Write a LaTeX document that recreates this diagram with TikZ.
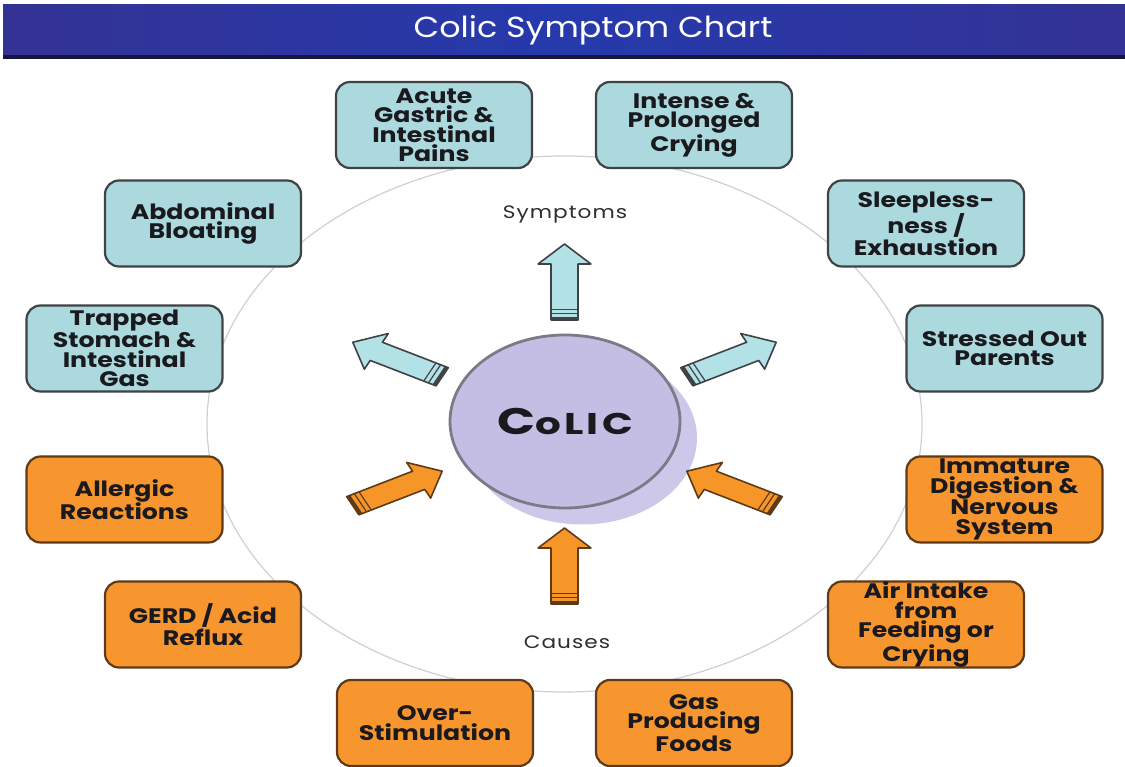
\documentclass[tikz,border=0pt]{standalone}
\usepackage{fontspec}
\usetikzlibrary{shapes.geometric}
\setmainfont{Poppins}
\newfontfamily\boxfont[FakeStretch=1.2]{Poppins}
\newfontfamily\titlefont[FakeStretch=1.15]{Poppins}
\newfontfamily\lblfont[FakeStretch=1.2,LetterSpace=6]{Poppins}
\newfontfamily\colicfont[FakeStretch=1.35,LetterSpace=11]{Poppins}
\definecolor{boxblue}{RGB}{171,217,221}
\definecolor{boxorange}{RGB}{247,150,47}
\definecolor{blueedge}{RGB}{64,66,70}
\definecolor{orangeedge}{RGB}{95,58,25}
\definecolor{colicfill}{RGB}{197,190,228}
\definecolor{colicshadow}{RGB}{205,199,234}
\definecolor{colicedge}{RGB}{125,122,135}
\definecolor{ringgray}{RGB}{208,208,212}
\definecolor{titleA}{RGB}{52,50,148}
\definecolor{titleB}{RGB}{38,58,172}
\definecolor{titleline}{RGB}{22,22,62}
\definecolor{arrowblue}{RGB}{178,226,230}
\definecolor{arroworange}{RGB}{247,150,40}
\definecolor{textdark}{RGB}{25,25,30}
\definecolor{lbltext}{RGB}{45,45,50}
\newcommand\colicarrow[4]{%
  \begin{scope}[rotate=#1, xshift=#2]
    \draw[fill=#3, draw=#4, line width=1.6pt, line join=round]
      (0,-10.2) -- (56,-10.2) -- (56,-20) -- (76,0) -- (56,20) -- (56,10.2) -- (0,10.2) -- cycle;
    \fill[#4] (0,-10.2) rectangle (3,10.2);
    \draw[#4, line width=1.2pt] (6.5,-10.2) -- (6.5,10.2) (10.5,-10.2) -- (10.5,10.2);
  \end{scope}}
\tikzset{
  symbox/.style={draw=blueedge, fill=boxblue, line width=2.2pt, rounded corners=14pt,
    minimum width=196pt, minimum height=86pt, inner sep=0pt, align=center,
    font=\boxfont\bfseries\fontsize{21}{19.5}\selectfont, text=textdark},
  causebox/.style={symbox, draw=orangeedge, fill=boxorange},
  sidelabel/.style={font=\lblfont\fontsize{18}{20}\selectfont, text=lbltext, inner sep=0pt}
}
\begin{document}
\begin{tikzpicture}[x=1pt,y=1pt]
\useasboundingbox (0,0) rectangle (1125,767);
\fill[white] (0,0) rectangle (1125,767);
% title bar
\shade[left color=titleA, right color=titleA, middle color=titleB] (3,711) rectangle (1125,762);
\fill[titleline] (3,708) rectangle (1125,711.5);
\node[text=white, font=\titlefont\fontsize{29}{31}\selectfont, inner sep=0pt] (title) at (593,737) {Colic Symptom Chart};
% ring
\draw[ringgray, line width=1.2pt] (564.5,343) ellipse [x radius=357.5, y radius=268];
% boxes
\node[symbox] (acute) at (434,642) {Acute\\Gastric \&\\Intestinal\\Pains};
\node[symbox] (intense) at (694,642) {Intense \&\\Prolonged\\Crying};
\node[symbox] (sleep) at (926,543.5) {Sleepless-\\ness /\\Exhaustion};
\node[symbox] (stress) at (1004.5,418.5) {Stressed Out\\Parents};
\node[causebox] (immature) at (1004.5,267.5) {Immature\\Digestion \&\\Nervous\\System};
\node[causebox] (air) at (926,142.5) {Air Intake\\from\\Feeding or\\Crying};
\node[causebox] (gas) at (694,44) {Gas\\Producing\\Foods};
\node[causebox] (over) at (435,44) {Over-\\Stimulation};
\node[causebox] (gerd) at (203,142.5) {GERD / Acid\\Reflux};
\node[causebox] (allergic) at (124.5,267.5) {Allergic\\Reactions};
\node[symbox] (trapped) at (124.5,418.5) {Trapped\\Stomach \&\\Intestinal\\Gas};
\node[symbox] (bloat) at (203,543.5) {Abdominal\\Bloating};
% labels
\node[sidelabel] (symptoms) at (565,553) {Symptoms};
\node[sidelabel] (causes) at (567,125) {Causes};
% colic circle
\fill[colicshadow] (582,329) ellipse [x radius=115, y radius=86.5];
\node[ellipse, draw=colicedge, fill=colicfill, line width=2.8pt, minimum width=230pt,
  minimum height=173pt, inner sep=0pt, text=textdark] (colic) at (565,345.5)
  {\colicfont\bfseries\fontsize{37}{37}\selectfont C\fontsize{30}{30}\selectfont oLIC};
% arrows
\begin{scope}[shift={(564.5,343)}, xscale=1.32]
  \colicarrow{90}{104pt}{arrowblue}{blueedge}
  \colicarrow{27}{104pt}{arrowblue}{blueedge}
  \colicarrow{153}{104pt}{arrowblue}{blueedge}
  \colicarrow{90}{-180pt}{arroworange}{orangeedge}
  \colicarrow{27}{-180pt}{arroworange}{orangeedge}
  \colicarrow{153}{-180pt}{arroworange}{orangeedge}
\end{scope}
\end{tikzpicture}
\end{document}
